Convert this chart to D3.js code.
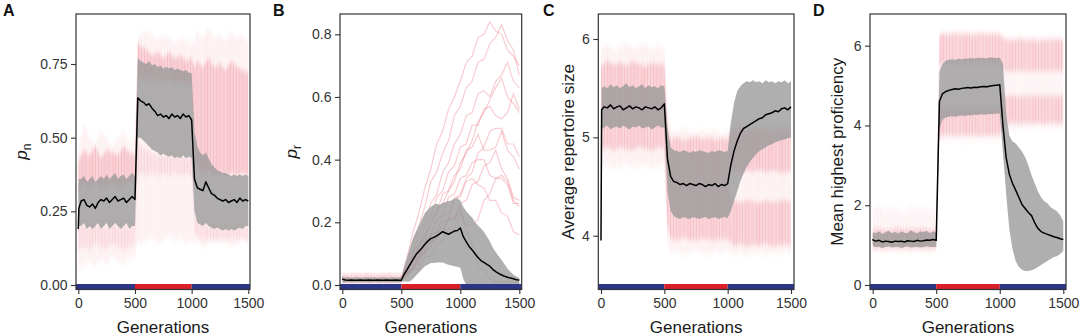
<!DOCTYPE html>
<html><head><meta charset="utf-8">
<script src="https://cdn.jsdelivr.net/npm/d3@7"></script>
<style>body{margin:0;background:#fff} svg{display:block;font-family:"Liberation Sans",Arial,Helvetica,sans-serif}</style>
</head><body><svg id="c" width="1080" height="336"></svg>
<script>
// ---------------- DATA ----------------
const gens = [0,5,25,50,75,100,125,150,175,200,225,250,275,300,325,350,375,400,425,450,475,500,525,550,575,600,625,650,675,700,725,750,775,800,825,850,875,900,925,950,975,1000,1025,1050,1075,1100,1125,1150,1175,1200,1225,1250,1275,1300,1325,1350,1375,1400,1425,1450,1475,1500];
const bandGens = [0,50,100,150,200,250,300,350,400,450,500,525,550,600,650,700,750,800,850,900,950,1000,1025,1050,1100,1150,1200,1250,1300,1350,1400,1450,1500];
const trajGens = [500,550,600,650,700,750,800,850,900,950,1000,1050,1100,1150,1200,1250,1300,1350,1400,1450,1500];
const xTicks = [0,500,1000,1500];
const xTickLabels = ["0","500","1000","1500"];
const phaseBreaks = [0,500,1000,1500];
const phaseNames = ["low","high","low"];

// Panel A: p_n
const aMean = [.19,.26, .285,.29,.27,.265,.275,.26,.28,.29,.285,.295,.28,.29,.3,.285,.29,.295,.28,.29,.3,.29, .635,.625,.62,.61,.615,.6,.59,.575,.58,.57,.575,.565,.58,.57,.575,.565,.58,.57,.575,.56, .36,.33,.325,.32,.35,.33,.31,.305,.295,.29,.285,.29,.28,.285,.29,.28,.295,.285,.29,.285];
const aSdLo = [.17,.2, .2,.21,.19,.2,.19,.2,.21,.19,.2,.21,.19,.2,.21,.2,.19,.2,.21,.19,.2,.2, .5,.5,.49,.48,.47,.46,.455,.45,.44,.445,.44,.435,.44,.43,.435,.43,.44,.43,.435,.43, .25,.21,.205,.2,.21,.2,.195,.19,.195,.19,.185,.19,.185,.19,.185,.19,.195,.19,.2,.2];
const aSdHi = [.33,.36, .36,.37,.35,.36,.37,.35,.36,.37,.36,.375,.36,.37,.38,.36,.37,.375,.36,.37,.38,.37, .77,.76,.755,.75,.76,.745,.75,.74,.745,.735,.74,.735,.74,.73,.735,.73,.725,.73,.72,.72, .52,.47,.45,.44,.45,.43,.41,.4,.39,.385,.38,.38,.375,.37,.375,.37,.375,.37,.375,.37];
const aRunsOutLo = [.05,.07,.08,.06,.09,.07,.1,.08,.07,.09,.1, .15, .14,.15,.16,.14,.15,.17,.15,.16,.14,.15, .14, .15,.13,.14,.15,.14,.15,.13,.14,.15,.14];
const aRunsOutHi = [.45,.55,.5,.48,.52,.5,.47,.5,.52,.48,.5, .84, .85,.86,.85,.83,.85,.84,.82,.84,.83,.82, .83, .86,.84,.87,.84,.85,.83,.86,.84,.85,.82];
const aRunsHiLo = [.32,.34,.33,.35,.33,.34,.35,.33,.34,.35,.35, .7, .7,.7,.69,.7,.69,.7,.68,.69,.68,.68, .45, .4,.38,.39,.37,.38,.37,.38,.37,.38,.37];
const aRunsHiHi = [.42,.46,.44,.47,.43,.46,.45,.44,.47,.45,.44, .82, .81,.8,.78,.79,.77,.79,.77,.78,.76,.77, .74, .76,.74,.77,.74,.75,.73,.76,.74,.73,.72];
const aRunsLoLo = [.12,.13,.12,.14,.13,.12,.14,.13,.12,.13,.14, .38, .38,.37,.38,.37,.38,.37,.38,.37,.38,.37, .18, .16,.15,.16,.15,.16,.15,.16,.15,.16,.15];
const aRunsLoHi = [.2,.21,.2,.21,.2,.2,.21,.2,.21,.2,.21, .48, .47,.46,.45,.44,.44,.45,.44,.44,.43,.43, .24, .21,.21,.2,.21,.2,.21,.2,.21,.2,.21];
const aYTicks = [0,0.25,0.5,0.75];
const aYTickLabels = ["0.00","0.25","0.50","0.75"];

// Panel B: p_r
const bMean = [.02,.018, .016,.015,.016,.015,.015,.016,.015,.015,.016,.015,.015,.016,.015,.015,.016,.015,.015,.016,.015,.015, .035,.05,.066,.082,.097,.108,.118,.13,.14,.148,.152,.157,.163,.17,.166,.162,.167,.172,.174,.182, .155,.138,.123,.112,.1,.088,.078,.072,.066,.06,.05,.043,.037,.032,.028,.025,.022,.02,.017,.016];
const bSdLo = [.01,.008, .008,.009,.008,.008,.009,.008,.008,.009,.008,.008,.009,.008,.008,.009,.008,.008,.009,.008,.008,.009, .012,.01,.012,.02,.03,.04,.05,.06,.065,.07,.07,.072,.072,.072,.068,.065,.062,.06,.058,.055, .02,0,0,0,0,0,0,0,0,0,0,0,0,0,0,0,0,0,0,0];
const bSdHi = [.03,.026, .024,.025,.023,.024,.025,.024,.023,.025,.024,.024,.025,.023,.024,.025,.024,.023,.025,.024,.024,.025, .06,.09,.12,.15,.17,.19,.21,.23,.24,.25,.255,.26,.255,.262,.265,.268,.27,.275,.277,.27, .25,.235,.225,.215,.2,.19,.18,.17,.155,.14,.12,.105,.092,.08,.066,.052,.042,.033,.027,.022];
const bPreLo = [.005,.006,.005,.007,.005,.006,.005,.006,.005,.007,.005];
const bPreHi = [.035,.032,.036,.033,.035,.034,.032,.036,.034,.033,.035];
const bRun1 = [.02,.09,.17,.23,.31,.37,.45,.49,.56,.6,.65,.71,.73,.79,.8,.84,.81,.8,.75,.73,.7];
const bRun2 = [.02,.07,.14,.19,.25,.33,.36,.42,.46,.54,.57,.63,.65,.71,.72,.77,.79,.83,.78,.75,.67];
const bRun3 = [.02,.06,.1,.17,.2,.26,.29,.36,.39,.45,.48,.54,.55,.61,.62,.6,.65,.67,.71,.65,.63];
const bRun4 = [.02,.05,.11,.13,.19,.22,.28,.3,.36,.38,.44,.45,.51,.51,.56,.57,.54,.53,.55,.61,.56];
const bRun5 = [.02,.05,.07,.13,.15,.21,.23,.29,.3,.35,.37,.43,.44,.48,.43,.43,.44,.49,.43,.41,.37];
const bRun6 = [.02,.04,.08,.09,.14,.16,.21,.22,.28,.29,.34,.35,.39,.4,.4,.35,.34,.34,.32,.26,.26];
const bRun7 = [.02,.04,.05,.1,.11,.16,.17,.22,.23,.28,.28,.33,.34,.32,.31,.27,.27,.23,.22,.17,.16];
const bRun8 = [.02,.03,.06,.07,.11,.12,.16,.17,.21,.21,.26,.27,.32,.33,.38,.39,.43,.37,.34,.28,.27];
const bRun9 = [.02,.04,.05,.09,.1,.14,.15,.2,.21,.27,.29,.34,.36,.42,.44,.49,.5,.5,.45,.45,.41];
const bRun10 = [.02,.03,.05,.05,.09,.09,.13,.14,.18,.18,.23,.19,.19,.21,.27,.29,.34,.35,.33,.27,.25];
const bRun11 = [.02,.04,.08,.08,.13,.13,.17,.17,.21,.21,.25,.17,.13,.06,.05,.02,.01,.01,.01,.01,.01];
const bRun12 = [.02,.05,.09,.12,.16,.19,.24,.26,.3,.33,.39,.42,.46,.52,.55,.59,.63,.66,.6,.58,.55];
const bYTicks = [0,0.2,0.4,0.6,0.8];
const bYTickLabels = ["0.0","0.2","0.4","0.6","0.8"];

// Panel C: average repertoire size
const cMean = [3.95,5.28, 5.31,5.3,5.33,5.29,5.31,5.32,5.28,5.3,5.32,5.29,5.31,5.3,5.28,5.31,5.3,5.29,5.31,5.28,5.3,5.34, 4.78,4.6,4.55,4.54,4.52,4.53,4.51,4.53,4.52,4.51,4.53,4.52,4.5,4.52,4.51,4.53,4.5,4.52,4.51,4.53, 4.72,4.86,4.96,5.04,5.09,5.11,5.13,5.15,5.17,5.19,5.2,5.23,5.24,5.25,5.27,5.26,5.29,5.3,5.28,5.31];
const cSdLo = [3.9,5.08, 5.1,5.12,5.08,5.1,5.11,5.09,5.12,5.1,5.08,5.11,5.1,5.12,5.09,5.1,5.11,5.08,5.1,5.12,5.1,5.1, 4.45,4.25,4.2,4.18,4.17,4.19,4.18,4.17,4.19,4.18,4.17,4.18,4.19,4.17,4.18,4.19,4.17,4.18,4.19,4.18, 4.25,4.35,4.45,4.55,4.63,4.7,4.75,4.79,4.83,4.86,4.88,4.9,4.92,4.93,4.95,4.96,4.97,4.98,4.99,5.0];
const cSdHi = [4.0,5.5, 5.52,5.5,5.54,5.51,5.53,5.5,5.52,5.55,5.51,5.53,5.5,5.52,5.54,5.5,5.53,5.51,5.52,5.5,5.53,5.52, 5.1,4.9,4.87,4.86,4.85,4.87,4.86,4.84,4.86,4.85,4.87,4.86,4.85,4.84,4.86,4.85,4.87,4.86,4.85,4.86, 5.15,5.35,5.47,5.52,5.55,5.57,5.56,5.58,5.56,5.57,5.55,5.58,5.56,5.57,5.55,5.57,5.56,5.58,5.55,5.57];
const cRunsOutLo = [4.7,4.72,4.68,4.7,4.73,4.69,4.7,4.72,4.68,4.7,4.72, 3.9, 3.82,3.85,3.8,3.83,3.85,3.82,3.8,3.84,3.82,3.85, 3.82, 3.8,3.83,3.8,3.82,3.84,3.8,3.83,3.81,3.84,3.82];
const cRunsOutHi = [5.9,5.95,5.88,5.92,5.96,5.9,5.93,5.95,5.9,5.94,5.9, 5.3, 5.08,5.05,5.1,5.06,5.04,5.08,5.05,5.07,5.03,5.06, 5.12, 5.15,5.18,5.14,5.16,5.13,5.17,5.15,5.12,5.16,5.14];
const cRunsHiLo = [5.32,5.33,5.3,5.32,5.31,5.33,5.3,5.32,5.31,5.33,5.32, 4.7, 4.56,4.55,4.57,4.55,4.56,4.54,4.56,4.55,4.57,4.55, 4.68, 4.66,4.64,4.66,4.65,4.67,4.64,4.66,4.65,4.64,4.66];
const cRunsHiHi = [5.72,5.78,5.74,5.76,5.73,5.77,5.75,5.72,5.76,5.74,5.75, 5.1, 4.98,5.0,4.97,4.99,5.01,4.98,5.0,4.97,4.99,4.98, 5.05, 5.08,5.1,5.06,5.09,5.07,5.1,5.06,5.08,5.09,5.07];
const cRunsLoLo = [4.88,4.9,4.86,4.9,4.88,4.87,4.9,4.89,4.86,4.9,4.88, 4.1, 3.97,3.95,3.98,3.96,3.95,3.97,3.96,3.95,3.97,3.96, 3.93, 3.9,3.92,3.89,3.91,3.9,3.92,3.89,3.9,3.91,3.9];
const cRunsLoHi = [5.32,5.33,5.3,5.32,5.31,5.33,5.3,5.32,5.31,5.33,5.32, 4.7, 4.56,4.55,4.57,4.55,4.56,4.54,4.56,4.55,4.57,4.55, 4.38, 4.36,4.34,4.36,4.35,4.33,4.36,4.34,4.35,4.36,4.34];
const cYTicks = [4,5,6];
const cYTickLabels = ["4","5","6"];

// Panel D: mean highest proficiency
const dMean = [1.15,1.12, 1.1,1.12,1.08,1.1,1.09,1.07,1.1,1.09,1.1,1.08,1.11,1.1,1.09,1.12,1.1,1.11,1.13,1.12,1.14,1.12, 4.6,4.8,4.85,4.88,4.9,4.92,4.91,4.93,4.94,4.95,4.94,4.96,4.95,4.97,4.98,4.97,4.99,5.0,5.01,5.02, 4.0,3.2,2.78,2.55,2.38,2.2,2.02,1.92,1.82,1.74,1.56,1.42,1.34,1.3,1.27,1.24,1.21,1.19,1.16,1.14];
const dSdLo = [1.0,.97, .95,.96,.93,.95,.97,.94,.95,.96,.93,.95,.97,.94,.95,.96,.94,.95,.97,.95,.96,.95, 3.9,4.15,4.2,4.22,4.23,4.22,4.24,4.25,4.24,4.26,4.25,4.27,4.26,4.28,4.27,4.28,4.29,4.28,4.3,4.3, 3.3,2.3,1.4,.9,.6,.45,.38,.35,.35,.37,.4,.45,.5,.55,.6,.65,.7,.72,.78,.85];
const dSdHi = [1.3,1.32, 1.3,1.35,1.28,1.32,1.36,1.3,1.33,1.29,1.35,1.31,1.3,1.37,1.32,1.3,1.34,1.33,1.36,1.3,1.35,1.32, 5.35,5.55,5.62,5.65,5.66,5.64,5.67,5.66,5.68,5.67,5.69,5.68,5.7,5.69,5.7,5.68,5.71,5.7,5.69,5.7, 5.55,4.3,3.75,3.6,3.55,3.45,3.35,3.2,3.0,2.75,2.55,2.35,2.2,2.1,2.05,1.95,1.9,1.85,1.75,1.6];
const dRunsOutLo = [.85,.86,.84,.85,.87,.85,.84,.86,.85,.84,.86, 3.6, 3.62,3.6,3.63,3.6,3.61,3.6,3.62,3.6,3.61,3.62, 3.9, 3.92,3.9,3.93,3.9,3.91,3.92,3.9,3.91,3.9,3.92];
const dRunsOutHi = [1.9,2.0,1.85,1.95,1.9,1.8,1.95,1.9,2.0,1.85,1.9, 6.3, 6.35,6.33,6.36,6.34,6.35,6.33,6.36,6.34,6.35,6.33, 6.25, 6.25,6.22,6.26,6.23,6.25,6.22,6.24,6.26,6.23,6.25];
const dRunsHiLo = [1.1,1.12,1.1,1.11,1.1,1.12,1.1,1.11,1.1,1.12,1.11, 5.5, 5.55,5.56,5.55,5.57,5.56,5.55,5.57,5.56,5.55,5.56, 5.4, 5.36,5.35,5.37,5.36,5.35,5.37,5.36,5.35,5.37,5.36];
const dRunsHiHi = [1.4,1.42,1.38,1.4,1.43,1.39,1.41,1.4,1.42,1.38,1.4, 6.25, 6.3,6.28,6.31,6.29,6.3,6.28,6.31,6.29,6.3,6.28, 6.2, 6.15,6.13,6.16,6.14,6.15,6.12,6.15,6.14,6.16,6.13];
const dRunsLoLo = [.9,.91,.9,.92,.9,.91,.9,.92,.91,.9,.91, 3.75, 3.75,3.77,3.74,3.76,3.75,3.77,3.74,3.76,3.75,3.77, 4.05, 4.05,4.07,4.04,4.06,4.05,4.07,4.04,4.06,4.05,4.07];
const dRunsLoHi = [1.1,1.12,1.1,1.11,1.1,1.12,1.1,1.11,1.1,1.12,1.11, 4.45, 4.45,4.47,4.44,4.46,4.45,4.47,4.44,4.46,4.45,4.47, 4.75, 4.74,4.76,4.73,4.75,4.74,4.76,4.73,4.75,4.74,4.76];
const dYTicks = [0,2,4,6];
const dYTickLabels = ["0","2","4","6"];

// ---------------- STYLE / LAYOUT ----------------
const PINK = "#e8566a";
const PHASE_COL = {low:"#2c3587", high:"#d91f28"};
const TOP = 14, BOTTOM = 289.5;
const TICK_FONT = 14, TITLE_FONT = 17;

const panels = [
  {letter:"A", lx:3, frame:[76,250], xr:[78.3,248.3], ydom:[0,0.75], yr:[285,64], yt:aYTicks, ytl:aYTickLabels,
   mean:aMean, lo:aSdLo, hi:aSdHi, title:{sym:"p", sub:"n", x:27},
   bands:[{lo:aRunsOutLo,hi:aRunsOutHi,op:0.13},{lo:aRunsLoLo,hi:aRunsLoHi,op:0.2},{lo:aRunsHiLo,hi:aRunsHiHi,op:0.42}]},
  {letter:"B", lx:273, frame:[340,521.7], xr:[342.3,519.3], ydom:[0,0.8], yr:[285,34.3], yt:bYTicks, ytl:bYTickLabels,
   mean:bMean, lo:bSdLo, hi:bSdHi, title:{sym:"p", sub:"r", x:297},
   bands:[{gens:bandGens.slice(0,11), lo:bPreLo, hi:bPreHi, op:0.5}],
   runs:[bRun1,bRun2,bRun3,bRun4,bRun5,bRun6,bRun7,bRun8,bRun9,bRun10,bRun11,bRun12]},
  {letter:"C", lx:543, frame:[598.3,794], xr:[601,791], ydom:[4,6], yr:[235.7,39], yt:cYTicks, ytl:cYTickLabels,
   mean:cMean, lo:cSdLo, hi:cSdHi, title:{text:"Average repertoire size", x:574},
   bands:[{lo:cRunsOutLo,hi:cRunsOutHi,op:0.13},{lo:cRunsLoLo,hi:cRunsLoHi,op:0.38},{lo:cRunsHiLo,hi:cRunsHiHi,op:0.4}]},
  {letter:"D", lx:813, frame:[870,1066], xr:[872.7,1063.3], ydom:[0,6], yr:[285,45.7], yt:dYTicks, ytl:dYTickLabels,
   mean:dMean, lo:dSdLo, hi:dSdHi, title:{text:"Mean highest proficiency", x:843},
   bands:[{lo:dRunsOutLo,hi:dRunsOutHi,op:0.1},{lo:dRunsLoLo,hi:dRunsLoHi,op:0.38},{lo:dRunsHiLo,hi:dRunsHiHi,op:0.38}]}
];

const svg = d3.select("#c");
const defs = svg.append("defs");
const pat = defs.append("pattern").attr("id","streak").attr("width",23).attr("height",40).attr("patternUnits","userSpaceOnUse");
pat.append("rect").attr("width",23).attr("height",40).attr("fill",PINK).attr("opacity",0.45);
[[0,0.8,0.7],[1.6,0.5,0.35],[2.9,1.1,0.6],[4.8,0.6,0.3],[6.1,0.9,0.65],[8.0,0.5,0.4],[9.2,1.2,0.55],[11.3,0.6,0.3],
 [12.5,0.9,0.7],[14.4,0.5,0.35],[15.6,1.0,0.5],[17.5,0.7,0.6],[19.2,0.5,0.3],[20.4,1.1,0.65],[22.2,0.5,0.4]]
  .forEach(([x,w,o]) => pat.append("rect").attr("x",x).attr("width",w).attr("height",40).attr("fill",PINK).attr("opacity",o));
defs.append("filter").attr("id","soft").attr("x","-5%").attr("y","-10%").attr("width","110%").attr("height","120%")
  .append("feGaussianBlur").attr("stdDeviation","0.4 2.6");

panels.forEach(p => {
  const x = d3.scaleLinear().domain([0,1500]).range(p.xr);
  const y = d3.scaleLinear().domain(p.ydom).range(p.yr);
  const g = svg.append("g");
  const clipId = "clip" + p.letter;
  defs.append("clipPath").attr("id",clipId).append("rect")
    .attr("x",p.frame[0]).attr("y",TOP).attr("width",p.frame[1]-p.frame[0]).attr("height",BOTTOM-TOP);
  const plot = g.append("g").attr("clip-path",`url(#${clipId})`);

  const band = (xs, lo, hi) => d3.area().x((d,i)=>x(xs[i])).y0((d,i)=>y(lo[i])).y1((d,i)=>y(hi[i]))(xs);
  const pinkLayer = plot.append("g").attr("filter","url(#soft)");
  p.bands.forEach(b => {
    pinkLayer.append("path").attr("d", band(b.gens || bandGens, b.lo, b.hi))
      .attr("fill","url(#streak)").attr("opacity",b.op);
  });
  if (p.runs) {
    const ln = d3.line().x((d,i)=>x(trajGens[i])).y(d=>y(d));
    p.runs.forEach(r => plot.append("path").attr("d", ln(r)).attr("fill","none")
      .attr("stroke",PINK).attr("stroke-width",1.2).attr("stroke-opacity",0.3));
  }
  plot.append("path").attr("d", band(gens, p.lo, p.hi)).attr("fill","#999").attr("opacity",0.78);
  plot.append("path").attr("d", d3.line().x((d,i)=>x(gens[i])).y(d=>y(d))(p.mean))
    .attr("fill","none").attr("stroke","#000").attr("stroke-width",1.5).attr("stroke-linejoin","round");

  // phase colour bar
  phaseNames.forEach((nm,i) => {
    const x0 = i === 0 ? p.frame[0] : x(phaseBreaks[i]);
    const x1 = i === phaseNames.length-1 ? p.frame[1] : x(phaseBreaks[i+1]);
    g.append("rect").attr("x",x0).attr("y",284).attr("width",x1-x0).attr("height",5.5).attr("fill",PHASE_COL[nm]);
  });

  // frame
  g.append("rect").attr("x",p.frame[0]).attr("y",TOP).attr("width",p.frame[1]-p.frame[0]).attr("height",BOTTOM-TOP)
    .attr("fill","none").attr("stroke","#333").attr("stroke-width",1.2);

  // axes
  const ya = g.append("g").attr("transform",`translate(${p.frame[0]},0)`)
    .call(d3.axisLeft(y).tickValues(p.yt).tickFormat((d,i)=>p.ytl[i]).tickSize(5).tickPadding(3.5));
  const xa = g.append("g").attr("transform",`translate(0,${BOTTOM})`)
    .call(d3.axisBottom(x).tickValues(xTicks).tickFormat((d,i)=>xTickLabels[i]).tickSize(4.5).tickPadding(4));
  [ya, xa].forEach(a => {
    a.select(".domain").remove();
    a.selectAll(".tick line").attr("stroke","#333").attr("stroke-width",1.1);
    a.selectAll(".tick text").attr("fill","#333").style("font-size",TICK_FONT+"px").style("font-family","Liberation Sans, Arial, sans-serif");
  });

  // titles
  g.append("text").attr("x",(p.frame[0]+p.frame[1])/2).attr("y",333).attr("text-anchor","middle")
    .attr("fill","#1a1a1a").style("font-size",TITLE_FONT+"px").text("Generations");
  const yc = (TOP + BOTTOM)/2;
  const yt = g.append("text").attr("transform",`translate(${p.title.x},${yc}) rotate(-90)`).attr("text-anchor","middle")
    .attr("fill","#1a1a1a").style("font-size",TITLE_FONT+"px");
  if (p.title.text) yt.text(p.title.text);
  else {
    yt.append("tspan").style("font-style","italic").text(p.title.sym);
    yt.append("tspan").attr("dy",4).style("font-size","12px").text(p.title.sub);
  }
  g.append("text").attr("x",p.lx).attr("y",16).attr("fill","#111").style("font-size","16px").style("font-weight","bold").text(p.letter);
});
</script></body></html>
